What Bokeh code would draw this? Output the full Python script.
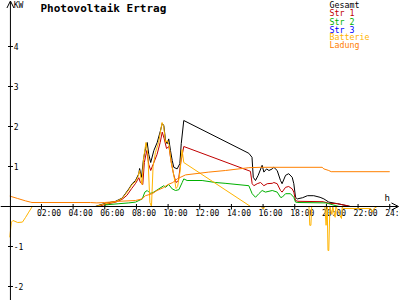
from bokeh.plotting import figure
from bokeh.models import Range1d, Arrow, OpenHead
from bokeh.core.properties import value
from bokeh.embed import file_html
from bokeh.resources import INLINE

# ---------------- data (hours, kW) ----------------
gesamt_h = [0.0, 5.4, 5.7, 6.04, 6.68, 7.1, 7.3, 7.52, 7.73, 7.94, 8.15, 8.2, 8.32, 8.45, 8.57, 8.68,
            8.78, 8.9, 9.1, 9.31, 9.52, 9.63, 9.73, 9.84, 9.94, 10.04, 10.15, 10.26, 10.36, 10.57,
            10.74, 10.83, 10.99, 15.1, 15.3, 15.38, 15.52, 15.69, 15.94, 16.05, 16.22, 16.37, 16.58,
            16.68, 16.89, 17.1, 17.2, 17.42, 17.62, 17.84, 17.94, 18.05, 18.16, 18.5, 18.8, 19.2,
            19.6, 19.84, 20.15, 20.7, 21.3, 21.5, 24.0]
gesamt_kw = [0.0, 0.0, 0.04, 0.08, 0.13, 0.21, 0.32, 0.44, 0.57, 0.65, 0.82, 0.95, 0.73, 1.2, 1.45, 1.6,
             1.3, 1.1, 1.4, 1.6, 1.9, 2.08, 2.02, 1.65, 1.57, 1.69, 1.4, 1.15, 0.98, 0.94,
             1.07, 1.57, 2.15, 1.33, 1.23, 0.73, 0.65, 0.78, 1.03, 0.86, 0.94, 0.9, 0.94,
             0.98, 0.9, 0.65, 0.57, 0.78, 0.82, 0.73, 0.57, 0.23, 0.19, 0.22, 0.27, 0.27,
             0.23, 0.19, 0.11, 0.07, 0.02, 0.0, 0.0]

str1_h = [0.0, 5.6, 6.0, 6.7, 7.1, 7.4, 7.7, 7.95, 8.15, 8.25, 8.4, 8.5, 8.65, 8.78, 8.9, 9.05, 9.3,
          9.5, 9.63, 9.75, 9.9, 10.05, 10.2, 10.35, 10.5, 10.65, 10.8, 10.99, 15.2, 15.31, 15.42,
          15.63, 15.84, 16.05, 16.26, 16.58, 16.68, 16.89, 17.1, 17.2, 17.42, 17.62, 17.84, 17.94,
          18.05, 18.2, 19.8, 20.15, 20.7, 21.3, 21.5, 24.0]
str1_kw = [0.0, 0.0, 0.05, 0.11, 0.18, 0.28, 0.45, 0.58, 0.72, 0.6, 0.55, 1.1, 1.4, 1.05, 0.9, 1.05, 1.3,
           1.6, 1.86, 1.7, 1.45, 1.5, 1.1, 0.8, 0.6, 0.65, 1.1, 1.5, 0.88, 0.57, 0.52,
           0.57, 0.6, 0.52, 0.57, 0.58, 0.6, 0.57, 0.4, 0.36, 0.48, 0.5, 0.44, 0.36,
           0.15, 0.13, 0.12, 0.08, 0.07, 0.02, 0.0, 0.0]

str2_h = [0.0, 6.0, 6.04, 6.89, 7.52, 7.94, 8.37, 8.53, 8.68, 8.78, 8.9, 9.1, 9.41, 9.73, 9.84, 10.04,
          10.26, 10.47, 10.68, 10.89, 10.99, 11.2, 12.15, 12.99, 13.6, 15.1, 15.31, 15.52, 15.73,
          15.94, 16.15, 16.58, 16.89, 17.1, 17.2, 17.42, 17.73, 17.94, 18.05, 18.2, 19.94, 20.15,
          20.6, 20.8, 24.0]
str2_kw = [0.0, 0.0, 0.04, 0.07, 0.09, 0.11, 0.19, 0.36, 0.4, 0.36, 0.33, 0.36, 0.44, 0.52, 0.48, 0.55,
           0.44, 0.4, 0.42, 0.6, 0.69, 0.65, 0.65, 0.6, 0.58, 0.52, 0.32, 0.23, 0.32,
           0.4, 0.36, 0.4, 0.36, 0.23, 0.23, 0.32, 0.32, 0.23, 0.11, 0.1, 0.09, 0.07,
           0.02, 0.0, 0.0]

str3_h = [0.0, 24.0]
str3_kw = [0.0, 0.0]

batt_h = [0.0, 0.1, 0.2, 0.5, 0.8, 1.0, 1.2, 1.42, 5.4, 5.7, 6.04, 6.68, 7.1, 7.3, 7.52, 7.73, 7.94,
          8.1, 8.2, 8.35, 8.45, 8.6, 8.72, 8.85, 8.95, 9.05, 9.2, 9.4, 9.62, 9.72, 9.84, 9.95,
          10.05, 10.2, 10.35, 10.5, 10.6, 10.75, 10.88, 10.99, 15.21, 15.9, 15.95, 16.05, 16.1,
          18.9, 18.95, 19.02, 19.07, 19.9, 19.98, 20.05, 20.1, 20.15, 20.22, 20.35, 20.4,
          20.55, 20.6, 20.95, 21.0, 21.05, 21.1, 22.8, 22.9, 23.0, 23.2, 24.0]
batt_kw = [-0.77, -0.39, -0.35, -0.4, -0.39, -0.27, -0.14, 0.0, 0.0, 0.03, 0.07, 0.12, 0.2, 0.3, 0.42,
           0.55, 0.62, 0.75, 0.9, 0.55, 1.2, 1.6, 1.3, 0.1, 0.0, 1.0, 1.35, 1.6, 2.1, 2.0, 1.6,
           1.65, 1.55, 1.1, 0.8, 0.45, 0.5, 0.86, 1.42, 1.1, 0.0, 0.0, -0.05, -0.05, 0.0,
           0.0, -0.47, -0.47, 0.0, 0.0, -0.47, 0.0, -1.1, -1.1, 0.0, -0.2, 0.0,
           -0.27, 0.0, -0.3, 0.0, -0.05, -0.05, -0.05, -0.14, -0.05, 0.0, 0.0]

ladung_h = [0.0, 0.5, 1.0, 1.3, 1.4, 5.1, 5.5, 6.0, 6.88, 7.94, 8.36, 8.57, 9.0, 9.3, 9.7, 10.0, 10.3,
            10.57, 11.1, 12.57, 13.62, 15.1, 15.83, 19.73, 19.84, 20.15, 20.3, 24.0]
ladung_kw = [0.26, 0.2, 0.14, 0.11, 0.1, 0.1, 0.09, 0.1, 0.13, 0.15, 0.19, 0.27, 0.32, 0.4, 0.47, 0.55,
             0.6, 0.69, 0.79, 0.86, 0.9, 0.97, 0.98, 0.98, 0.94, 0.9, 0.87, 0.87]

x_ticks = [2, 4, 6, 8, 10, 12, 14, 16, 18, 20, 22, 24]
x_tick_labels = ["02:00", "04:00", "06:00", "08:00", "10:00", "12:00",
                 "14:00", "16:00", "18:00", "20:00", "22:00", "24:00"]
y_ticks = [-2, -1, 1, 2, 3, 4]
y_tick_labels = ["-2", "-1", "1", "2", "3", "4"]

series_names = ["Gesamt", "Str 1", "Str 2", "Str 3", "Batterie", "Ladung"]
series_colors = ["#000000", "#c00000", "#00b000", "#0000ff", "#ffb400", "#ff8000"]
title_text = "Photovoltaik Ertrag"
y_unit = "KW"
x_unit = "h"

# ---------------- layout helpers ----------------
W, H = 400, 300
X0, X1 = -0.587, 24.68
Y0, Y1 = -2.35, 5.15


def sx(xp):
    return X0 + xp / W * (X1 - X0)


def sy(yp):
    return Y1 - yp / H * (Y1 - Y0)


FONT = value("DejaVu Sans Mono")

p = figure(width=W, height=H, x_range=Range1d(X0, X1), y_range=Range1d(Y0, Y1),
           output_backend="svg", toolbar_location=None, min_border=0,
           x_axis_location=None, y_axis_location=None,
           background_fill_color="white", border_fill_color="white")
p.outline_line_color = None
p.xgrid.visible = False
p.ygrid.visible = False

# axes (crossing at zero)
p.add_layout(Arrow(end=OpenHead(size=7, line_width=1, line_color="black"),
                   x_start=sx(0), y_start=0, x_end=sx(398), y_end=0,
                   line_color="black", line_width=1))
p.add_layout(Arrow(end=OpenHead(size=7, line_width=1, line_color="black"),
                   x_start=0.04, y_start=Y0, x_end=0.04, y_end=sy(0.5),
                   line_color="black", line_width=1))

# x ticks
p.segment(x0=x_ticks, y0=[sy(203.5)] * len(x_ticks), x1=x_ticks, y1=[sy(209)] * len(x_ticks),
          line_color="black", line_width=1)
dx = sx(36.5) - sx(41)
p.text(x=[t + dx for t in x_ticks], y=[sy(213)] * len(x_ticks), text=x_tick_labels,
       text_font=FONT, text_font_size="8px", text_color="black",
       text_align="left", text_baseline="middle")

# y ticks
p.segment(x0=[sx(7.5)] * len(y_ticks), y0=y_ticks, x1=[sx(12.5)] * len(y_ticks), y1=y_ticks,
          line_color="black", line_width=1)
p.text(x=[sx(13.3)] * len(y_ticks), y=y_ticks, text=y_tick_labels,
       text_font=FONT, text_font_size="8px", text_color="black",
       text_align="left", text_baseline="middle")

# unit labels
p.text(x=[sx(13.3)], y=[sy(4.8)], text=[y_unit], text_font=FONT, text_font_size="8px",
       text_color="black", text_align="left", text_baseline="middle")
p.text(x=[sx(384)], y=[sy(197)], text=[x_unit], text_font=FONT, text_font_size="9px",
       text_color="black", text_align="left", text_baseline="middle")

# title
p.text(x=[sx(40)], y=[sy(7.5)], text=[title_text], text_font=FONT, text_font_size="11px",
       text_font_style="bold", text_color="black", text_align="left", text_baseline="middle")

# series
series = [(gesamt_h, gesamt_kw), (str1_h, str1_kw), (str2_h, str2_kw),
          (str3_h, str3_kw), (batt_h, batt_kw), (ladung_h, ladung_kw)]
for (hx, ky), col in zip(series, series_colors):
    p.line(hx, ky, line_color=col, line_width=1)

# legend (text only)
leg_y = [4.7, 12.8, 21.0, 29.2, 36.6, 44.4]
p.text(x=[sx(329)] * len(series_names), y=[sy(v) for v in leg_y], text=series_names,
       text_font=FONT, text_font_size="8.3px", text_color=series_colors,
       text_align="left", text_baseline="middle")

open("out.html", "w").write(file_html(p, INLINE))
